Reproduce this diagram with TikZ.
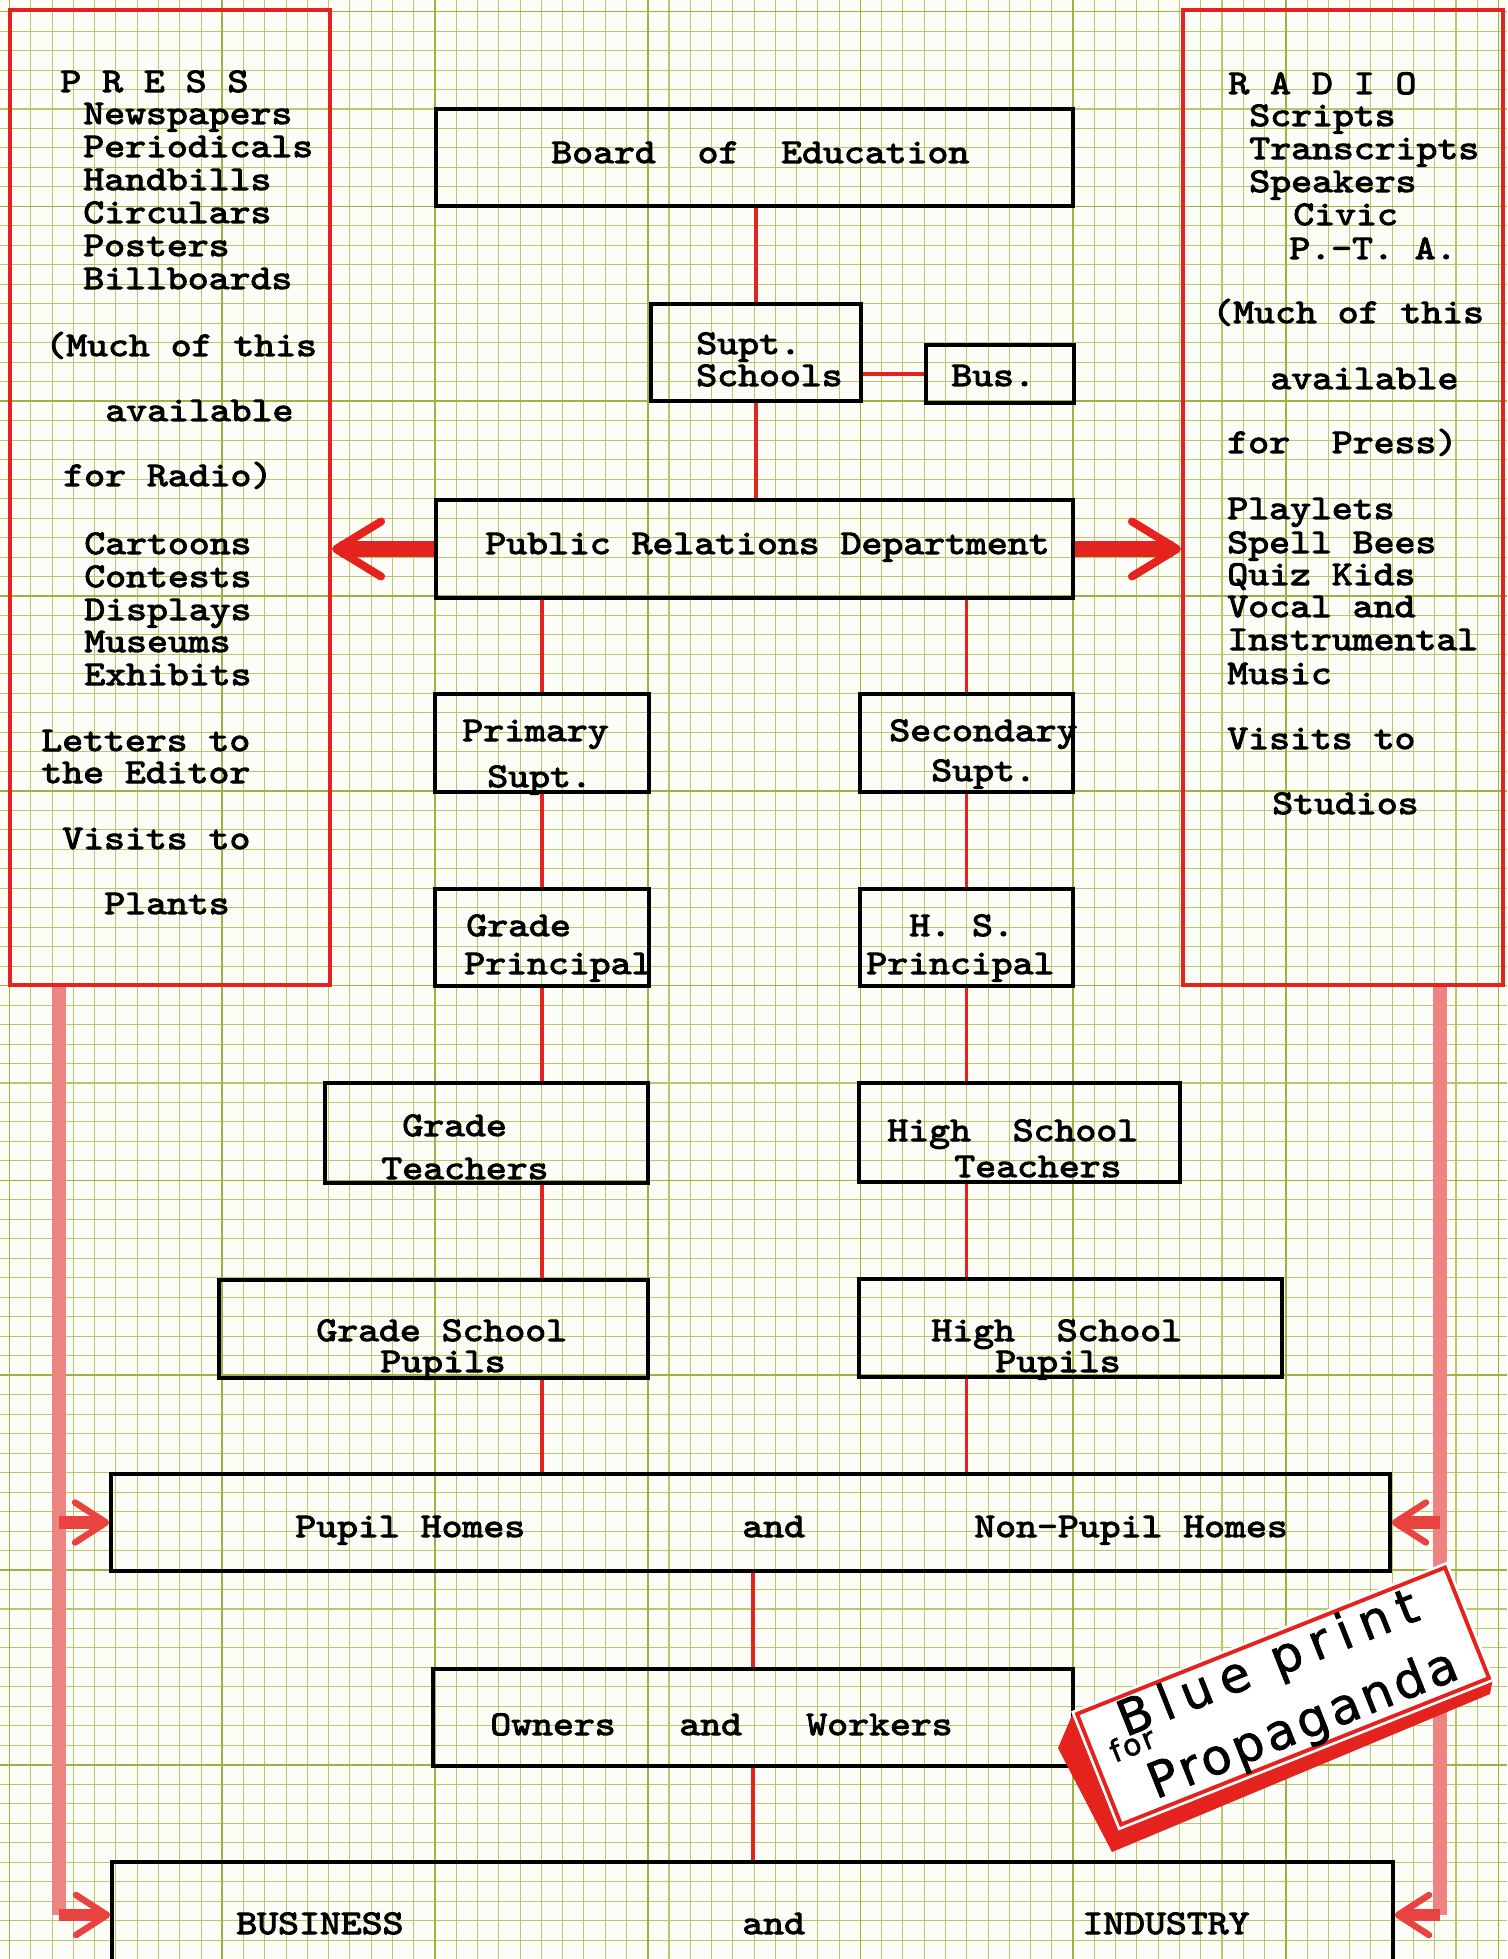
\documentclass[tikz,border=0pt]{standalone}
\usepackage{fontspec}
\usetikzlibrary{arrows.meta}

\newfontfamily\typer[Extension=.otf,FakeStretch=1.15,FakeBold=3]{lmmono10-regular}
\newfontfamily\marker[LetterSpace=20,FakeBold=1.5]{DejaVu Sans}
\newfontfamily\markertight[LetterSpace=8,FakeBold=1.5]{DejaVu Sans}

\definecolor{paper}{RGB}{253,253,247}
\definecolor{gridgreen}{RGB}{186,198,108}
\definecolor{gridheavy}{RGB}{160,176,66}
\definecolor{inkred}{RGB}{228,34,30}
\definecolor{palered}{RGB}{238,132,130}

\begin{document}
\begin{tikzpicture}[x=0.02cm,y=-0.02cm,
    box/.style={draw,line width=2.1pt,inner sep=0pt},
    redbox/.style={draw=inkred,line width=2.4pt,inner sep=0pt},
    tw/.style={font={\typer\fontsize{19.7}{23}\selectfont},anchor=base west,inner sep=0pt},
    link/.style={draw=inkred,line width=1.9pt},
    fatarrow/.style={draw=inkred,line width=0.34cm,
      -{Straight Barb[length=0.9cm,width=1.1cm,line width=0.16cm,round]}},
    sidearrow/.style={draw=inkred!85,line width=0.25cm,
      -{Straight Barb[length=0.62cm,width=0.8cm,line width=0.13cm,round]}},
    paleline/.style={draw=palered,line width=0.28cm},
    stamptext/.style={anchor=base,inner sep=0pt,transform shape}]

  \useasboundingbox (0,0) rectangle (1507,1959);
  \clip (0,0) rectangle (1507,1959);

  % graph paper
  \fill[paper] (0,0) rectangle (1507,1959);
  \foreach \i in {-1,...,71}
    \draw[gridgreen,line width=0.6pt] ({9.6+21.27*\i},0) -- ++(0,1959);
  \foreach \j in {-1,...,101}
    \draw[gridgreen,line width=0.6pt] (0,{11.6+19.48*\j}) -- ++(1507,0);
  \foreach \i in {0,...,7}
    \draw[gridheavy,line width=1pt] ({9.6+212.7*\i},0) -- ++(0,1959);
  \foreach \j in {0,...,10}
    \draw[gridheavy,line width=1pt] (0,{11.6+194.8*\j}) -- ++(1507,0);

  % media columns
  \node[redbox,minimum width=6.4cm,minimum height=19.5cm] (press) at (170,497.5) {};
  \node[redbox,minimum width=6.4cm,minimum height=19.5cm] (radio) at (1343,497.5) {};

  % chart boxes
  \node[box,minimum width=12.74cm,minimum height=1.94cm] (board) at (754.5,157.5) {};
  \node[box,minimum width=4.2cm,minimum height=1.94cm] (supt) at (756,352.5) {};
  \node[box,minimum width=2.96cm,minimum height=1.16cm] (bus) at (1000,374) {};
  \node[box,minimum width=12.74cm,minimum height=1.96cm] (prd) at (754.5,549) {};
  \node[box,minimum width=4.28cm,minimum height=1.96cm] (prim) at (542,743) {};
  \node[box,minimum width=4.26cm,minimum height=1.96cm] (sec) at (966.5,743) {};
  \node[box,minimum width=4.28cm,minimum height=1.94cm] (gprin) at (542,937.5) {};
  \node[box,minimum width=4.26cm,minimum height=1.94cm] (hsprin) at (966.5,937.5) {};
  \node[box,minimum width=6.46cm,minimum height=2cm] (gteach) at (486.5,1133) {};
  \node[box,minimum width=6.42cm,minimum height=1.98cm] (hsteach) at (1019.5,1132.5) {};
  \node[box,minimum width=8.58cm,minimum height=1.96cm] (gpup) at (433.5,1329) {};
  \node[box,minimum width=8.46cm,minimum height=1.96cm] (hspup) at (1070.5,1328) {};
  \node[box,minimum width=25.58cm,minimum height=1.94cm] (homes) at (750.5,1522.5) {};
  \node[box,minimum width=12.8cm,minimum height=1.94cm] (owners) at (753,1717.5) {};
  \node[box,minimum width=25.62cm,minimum height=2.12cm] (biz) at (752.5,1915) {};

  % red lines of the chart
  \draw[link] (supt.north) -- (supt.north |- board.south)
              (supt.south) -- (supt.south |- prd.north)
              (bus.west) -- (bus.west -| supt.east)
              (prim.north) -- (prim.north |- prd.south)
              (sec.north) -- (sec.north |- prd.south)
              (prim.south) -- (gprin.north)
              (sec.south) -- (hsprin.north)
              (gprin.south) -- (gprin.south |- gteach.north)
              (hsprin.south) -- (hsprin.south |- hsteach.north)
              (gprin.south |- gteach.south) -- (gprin.south |- gpup.north)
              (hsprin.south |- hsteach.south) -- (hsprin.south |- hspup.north)
              (gprin.south |- gpup.south) -- (gprin.south |- homes.north)
              (hsprin.south |- hspup.south) -- (hsprin.south |- homes.north)
              (owners.north) -- (owners.north |- homes.south)
              (owners.south) -- (owners.south |- biz.north);

  \draw[fatarrow] (prd.west) -- (press.east |- prd.west);
  \draw[fatarrow] (prd.east) -- (radio.west |- prd.east);

  \coordinate (lbend) at (59,1915);
  \coordinate (rbend) at (1440,1915);
  \draw[paleline] (press.south -| lbend) -- (lbend);
  \draw[paleline] (radio.south -| rbend) -- (rbend);
  \draw[sidearrow] (lbend) -- (biz.west);
  \draw[sidearrow] (homes.west -| lbend) -- (homes.west);
  \draw[sidearrow] (rbend) -- (biz.east);
  \draw[sidearrow] (homes.east -| rbend) -- (homes.east);

  % typed lists
  \foreach \n/\x/\y/\t in {1/60/92/P~R~E~S~S, 2/83/124/Newspapers, 3/83/157/Periodicals,
      4/83/190/Handbills, 5/83/223/Circulars, 6/83/256/Posters, 7/83/289/Billboards,
      8/45/356/(Much of this, 9/105/421/available, 10/63/486/for Radio),
      11/84/554/Cartoons, 12/84/587/Contests, 13/84/620/Displays, 14/84/652/Museums,
      15/84/685/Exhibits, 16/41/751/Letters to, 17/41/783/the Editor,
      18/62/849/Visits to, 19/104/914/Plants}
    \node[tw] (press\n) at (\x,\y) {\t};
  \foreach \n/\x/\y/\t in {1/1228/94/R~A~D~I~O, 2/1249/126/Scripts, 3/1249/159/Transcripts,
      4/1249/192/Speakers, 5/1293/225/Civic, 6/1289/259/P.-T.~A.,
      7/1212/323/(Much of this, 8/1270/389/available, 9/1227/453/for~~Press),
      10/1227/519/Playlets, 11/1227/553/Spell Bees, 12/1227/585/Quiz Kids,
      13/1227/617/Vocal and, 14/1227/650/Instrumental, 15/1227/684/Music,
      16/1227/749/Visits to, 17/1272/814/Studios}
    \node[tw] (radio\n) at (\x,\y) {\t};

  % typed box labels
  \foreach \n/\x/\y/\t in {board/551/163/Board~~of~~Education,
      supt1/696/354/Supt., supt2/696/386/Schools, bus/951/386/Bus.,
      prd/485/554/Public Relations Department,
      prim1/462/741/Primary, prim2/487/787/Supt.,
      sec1/889/741/Secondary, sec2/931/781/Supt.,
      gprin1/466/936/Grade, gprin2/464/974/Principal,
      hsprin1/909/936/H.~S., hsprin2/866/974/Principal,
      gteach1/402/1136/Grade, gteach2/381/1179/Teachers,
      hsteach1/887/1141/High~~School, hsteach2/954/1177/Teachers,
      gpup1/316/1341/Grade School, gpup2/380/1372/Pupils,
      hspup1/931/1341/High~~School, hspup2/995/1372/Pupils,
      homes1/295/1537/Pupil Homes, homes2/742/1537/and, homes3/974/1537/Non-Pupil Homes,
      owners1/490/1735/Owners, owners2/679/1735/and, owners3/806/1735/Workers,
      biz1/236/1934/BUSINESS, biz2/742/1934/and, biz3/1082/1934/INDUSTRY}
    \node[tw] (t-\n) at (\x,\y) {\t};

  % title block
  \fill[inkred] (1073,1713) -- (1058,1748) -- (1112,1852) -- (1490,1694)
    -- (1493,1678) -- (1122,1828) -- cycle;
  \begin{scope}[shift={(1283,1696)},rotate=21.7]
    \filldraw[fill=white,draw=white,line width=3pt] (-200,-61.5) rectangle (200,61.5);
    \draw[inkred,line width=2.2pt] (-198,-59.5) rectangle (198,59.5);
    \node[stamptext,font={\marker\fontsize{28}{30}\selectfont}] (blueprint) at (-2,-20) {Blue print};
    \node[stamptext,font={\markertight\fontsize{17}{18}\selectfont}] (for) at (-158,0) {for};
    \node[stamptext,font={\markertight\fontsize{28}{30}\selectfont}] (propaganda) at (8,49) {Propaganda};
  \end{scope}
\end{tikzpicture}
\end{document}
